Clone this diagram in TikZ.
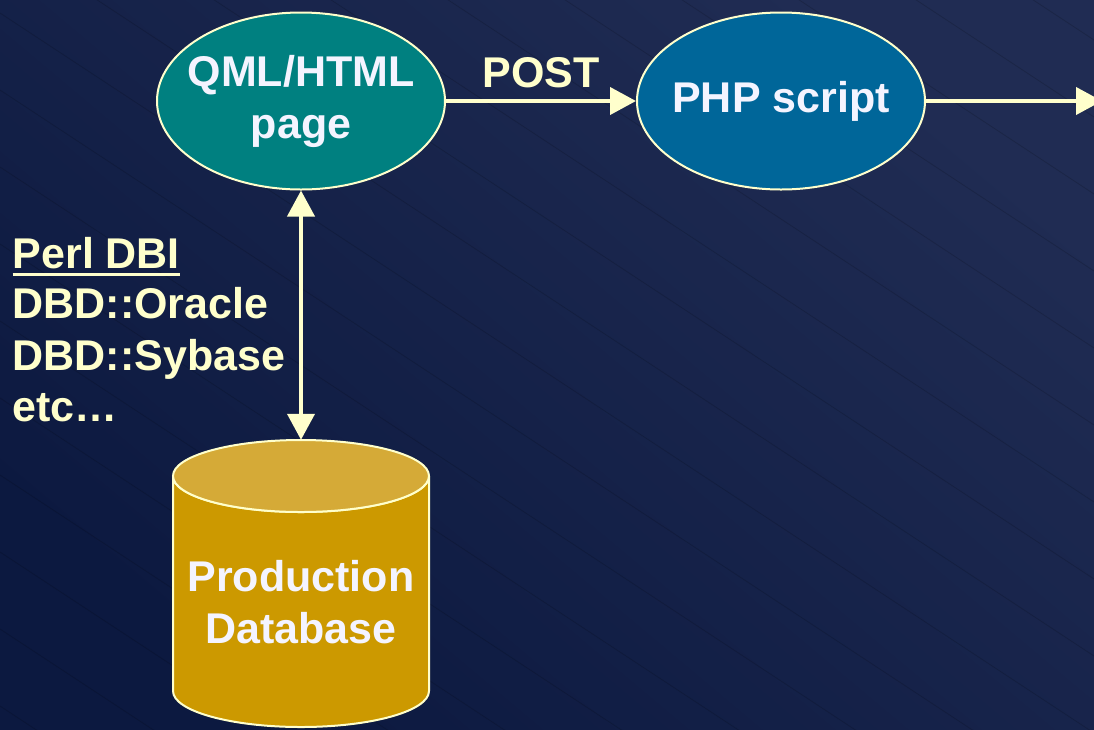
\documentclass[tikz,border=0pt]{standalone}
\usepackage{fontspec}
\setmainfont{Liberation Sans}
\usetikzlibrary{shapes.geometric,arrows.meta}
\definecolor{bgdark}{HTML}{0C1940}
\definecolor{bglight}{HTML}{202C53}
\definecolor{tealfill}{HTML}{008080}
\definecolor{phpblue}{HTML}{006699}
\definecolor{cream}{HTML}{FFFFCC}
\definecolor{dbtopc}{HTML}{D5AA37}
\definecolor{dbbody}{HTML}{CC9900}
\definecolor{ntext}{HTML}{F4F4FF}
\tikzset{
  bigfont/.style={font=\fontsize{43}{52}\selectfont\bfseries},
  ellnode/.style={ellipse, draw=cream, line width=2pt, inner xsep=-14pt, inner ysep=0pt,
    minimum width=288pt, minimum height=177pt, text=ntext, bigfont, align=center},
  conn/.style={draw=cream, line width=4pt, arrows={-Triangle[length=26pt,width=27pt]}},
  lbl/.style={text=cream, bigfont, inner sep=0pt},
  bgline/.style={draw=black, opacity=0.15, line width=0.8pt}
}
\begin{document}
\begin{tikzpicture}[x=1pt,y=-1pt]
\useasboundingbox (0,0) rectangle (1094,729);
\shade[shading=axis, top color=bglight, bottom color=bgdark, shading angle=-40] (0,0) rectangle (1094,729);
% faint diagonal lines of the background
\foreach \c in {-1065,-988,...,740} {
  \draw[bgline] (0,\c) -- (1094,\c+720);
}
% nodes
\node[ellnode, fill=tealfill] (qml) at (301,101) {QML/HTML\\page};
\node[ellnode, fill=phpblue] (php) at (781,101) {PHP script};
\coordinate (out) at (1102,101);
% database cylinder
\path[fill=dbbody, draw=cream, line width=2pt]
  (173,476) -- (173,691) arc[start angle=180, end angle=0, x radius=128, y radius=36]
  -- (429,476) arc[start angle=0, end angle=180, x radius=128, y radius=36] -- cycle;
\path[fill=dbtopc, draw=cream, line width=2pt] (301,476) ellipse[x radius=128, y radius=36];
\node[minimum width=256pt, minimum height=324pt, inner sep=0pt, text=ntext, bigfont, align=center] (db) at (301,602) {Production\\Database};
% connectors
\draw[conn] (qml) -- node[lbl, above=11pt] (post) {POST} (php);
\draw[conn] (php) -- (out);
\draw[conn, arrows={Triangle[length=26pt,width=27pt]-Triangle[length=26pt,width=27pt]}] (qml.south) -- (db.north);
% left labels
\node[lbl, anchor=base west] (perl) at (12.5,268) {Perl DBI};
\draw[draw=cream, line width=3pt] ([yshift=-6pt]perl.base west) -- ([yshift=-6pt]perl.base east);
\node[lbl, anchor=base west] (ora) at (12.5,318) {DBD::Oracle};
\node[lbl, anchor=base west] (syb) at (12.5,370) {DBD::Sybase};
\node[lbl, anchor=base west] (etc) at (12.5,421) {etc…};
\end{tikzpicture}
\end{document}
